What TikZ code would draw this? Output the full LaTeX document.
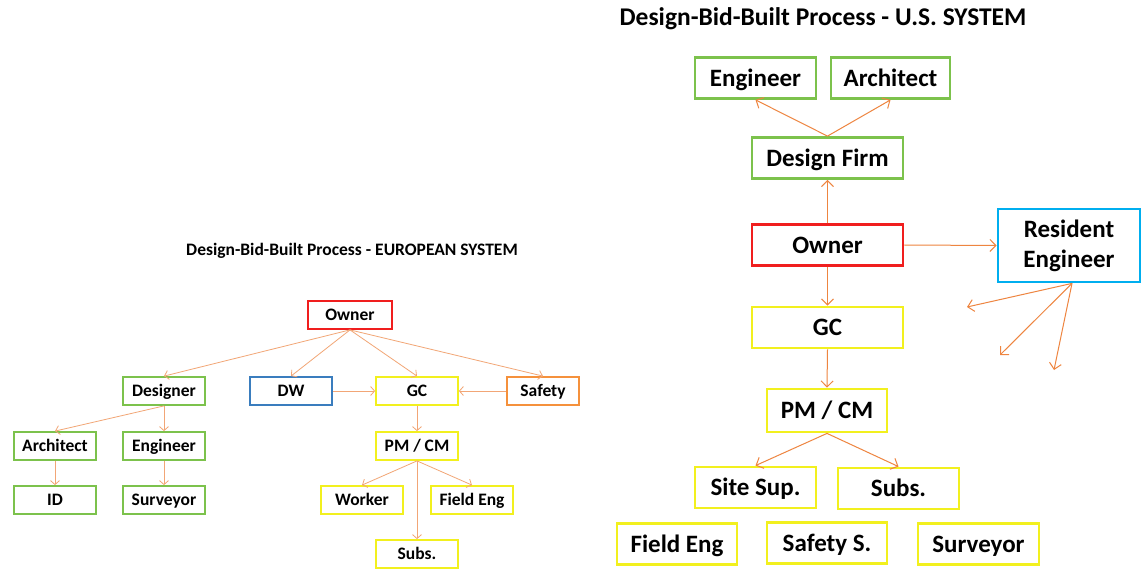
\documentclass[tikz,border=0pt]{standalone}
\usepackage{fontspec}
\setmainfont{Carlito}
\usetikzlibrary{arrows.meta}
\definecolor{gbox}{HTML}{7CC24C}
\definecolor{ybox}{HTML}{F2F01E}
\definecolor{rbox}{HTML}{F01E1E}
\definecolor{bbox}{HTML}{3A7DBE}
\definecolor{cbox}{HTML}{00AEEF}
\definecolor{obox}{HTML}{F5913C}
\definecolor{larrow}{HTML}{F2A676}
\definecolor{rarrow}{HTML}{EE8540}
\begin{document}
\begin{tikzpicture}[x=1pt,y=-1pt,
  lbox/.style={draw, line width=1.8pt, minimum width=82pt, minimum height=28pt, inner sep=0pt,
    text height=13.5pt, text depth=2.3pt, font=\fontsize{17.5}{19}\selectfont\bfseries},
  rboxs/.style={draw, line width=2.8pt, minimum height=41pt, inner sep=0pt,
    text height=20pt, text depth=3.8pt, font=\fontsize{25}{28}\selectfont\bfseries},
  larr/.style={draw=larrow, line width=0.8pt, -{Straight Barb[length=4pt,width=9pt]}},
  rarr/.style={draw=rarrow, line width=1pt, -{Straight Barb[length=6pt,width=12pt]}},
  ttl/.style={anchor=base, inner sep=0pt}
]
\useasboundingbox (0,0) rectangle (1145,569);
\fill[white] (0,0) rectangle (1145,569);

% ---------------- European system ----------------
\node[ttl, font=\fontsize{17.5}{19}\selectfont\bfseries] (ltitle) at (352,256) {Design-Bid-Built Process - EUROPEAN SYSTEM};

\node[lbox, draw=rbox, minimum width=84pt] (eow) at (350,315) {Owner};
\node[lbox, draw=gbox] (edes) at (164,391) {Designer};
\node[lbox, draw=bbox] (edw) at (291,391) {DW};
\node[lbox, draw=ybox] (egc) at (417,391) {GC};
\node[lbox, draw=obox, minimum width=72pt] (esaf) at (543,391) {Safety};
\node[lbox, draw=gbox] (earc) at (55,446) {Architect};
\node[lbox, draw=gbox] (eeng) at (164,446) {Engineer};
\node[lbox, draw=gbox] (eid) at (55,500) {ID};
\node[lbox, draw=gbox] (esur) at (164,500) {Surveyor};
\node[lbox, draw=ybox] (epm) at (417,446) {PM / CM};
\node[lbox, draw=ybox] (ewor) at (362,500) {Worker};
\node[lbox, draw=ybox] (efe) at (472,500) {Field Eng};
\node[lbox, draw=ybox] (esub) at (417,554) {Subs.};

\draw[larr] (eow.south) -- (edes.north);
\draw[larr] (eow.south) -- (edw.north);
\draw[larr] (eow.south) -- (egc.north);
\draw[larr] (eow.south) -- (esaf.north);
\draw[larr] (edw.east) -- (egc.west);
\draw[larr] (esaf.west) -- (egc.east);
\draw[larr] (egc.south) -- (epm.north);
\draw[larr] (epm.south) -- (ewor.north);
\draw[larr] (epm.south) -- (efe.north);
\draw[larr] (epm.south) -- (esub.north);
\draw[larr] (edes.south) -- (earc.north);
\draw[larr] (edes.south) -- (eeng.north);
\draw[larr] (earc.south) -- (eid.north);
\draw[larr] (eeng.south) -- (esur.north);

% ---------------- U.S. system ----------------
\node[ttl, font=\fontsize{25.5}{28}\selectfont\bfseries] (rtitle) at (823,26) {Design-Bid-Built Process - U.S. SYSTEM};

\node[rboxs, draw=gbox, minimum width=121pt] (ueng) at (755.5,78) {Engineer};
\node[rboxs, draw=gbox, minimum width=119pt] (uarc) at (890.5,78) {Architect};
\node[rboxs, draw=gbox, minimum width=151pt] (udf) at (827.5,158) {Design Firm};
\node[rboxs, draw=rbox, minimum width=151pt] (uow) at (827.5,245) {Owner};
\node[draw=cbox, line width=2.8pt, minimum width=142pt, minimum height=73pt, inner sep=0pt,
  align=center, font=\fontsize{25}{30}\selectfont\bfseries] (ure) at (1069,245.5) {Resident\\Engineer};
\node[rboxs, draw=ybox, minimum width=151pt] (ugc) at (827.5,327.5) {GC};
\node[rboxs, draw=ybox, minimum width=120pt, minimum height=43pt] (upm) at (827,410.5) {PM / CM};
\node[rboxs, draw=ybox, minimum width=121pt] (uss) at (755.5,487.5) {Site Sup.};
\node[rboxs, draw=ybox, minimum width=121pt] (usub) at (898.5,488.5) {Subs.};
\node[rboxs, draw=ybox, minimum width=120pt] (ufe) at (677,544) {Field Eng};
\node[rboxs, draw=ybox, minimum width=120pt] (uss2) at (827,543) {Safety S.};
\node[rboxs, draw=ybox, minimum width=121pt] (usur) at (978.5,544) {Surveyor};

\coordinate (rend1) at (967,307);
\coordinate (rend2) at (1000,355);
\coordinate (rend3) at (1054,370);

\draw[rarr] (udf.north) -- (ueng.south);
\draw[rarr] (udf.north) -- (uarc.south);
\draw[rarr] (uow.north) -- (udf.south);
\draw[rarr] (uow.east) -- (ure.west);
\draw[rarr] (uow.south) -- (ugc.north);
\draw[rarr] (ugc.south) -- (upm.north);
\draw[rarr] (upm.south) -- (uss.north);
\draw[rarr] (upm.south) -- (usub.north);
\draw[rarr] ([xshift=3pt]ure.south) -- (rend1);
\draw[rarr] ([xshift=3pt]ure.south) -- (rend2);
\draw[rarr] ([xshift=3pt]ure.south) -- (rend3);
\end{tikzpicture}
\end{document}
